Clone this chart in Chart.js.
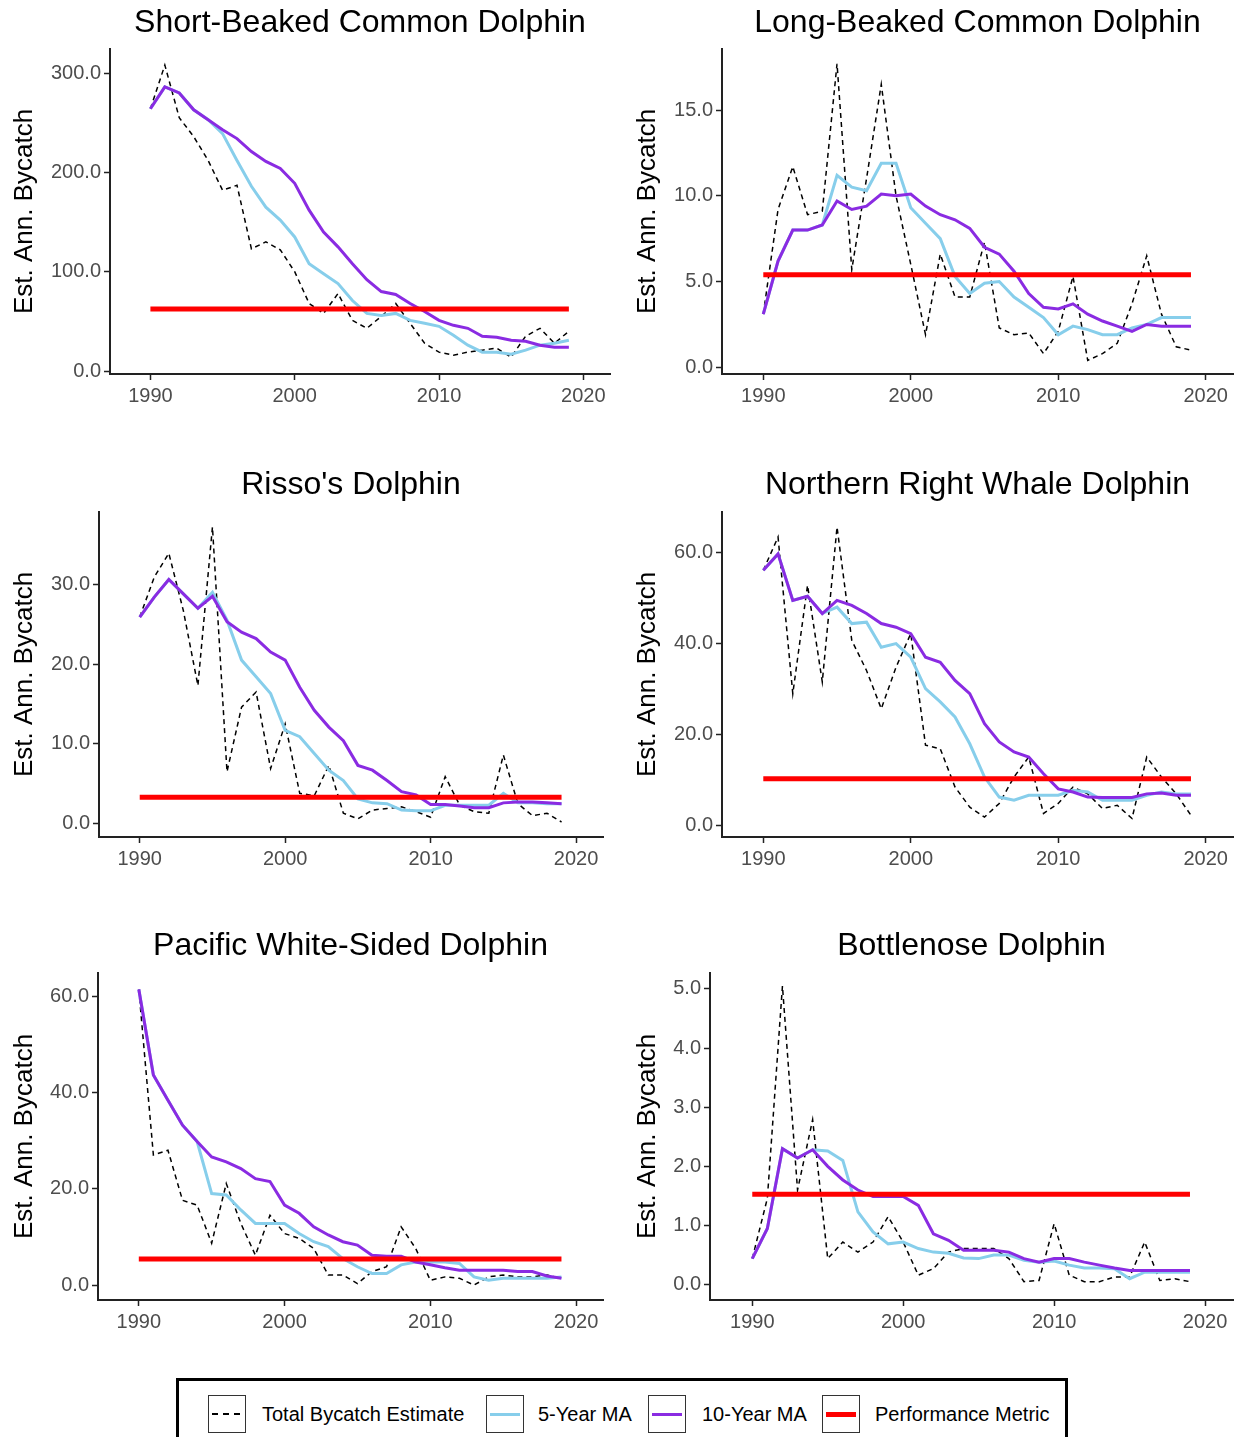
<!DOCTYPE html>
<html>
<head>
<meta charset="utf-8">
<script src="https://cdn.jsdelivr.net/npm/chart.js@4.4.1/dist/chart.umd.min.js"></script>
<style>
  html, body { margin: 0; padding: 0; background: #fff; }
  #page { position: relative; width: 1241px; height: 1437px; overflow: hidden; background: #fff; }
  #page canvas { position: absolute; }
  .legend {
    position: absolute; left: 176px; top: 1378px; width: 892px; height: 70px;
    border: 3px solid #000; box-sizing: border-box;
    font-family: "Liberation Sans", Arial, sans-serif; font-size: 20px; color: #000;
    white-space: nowrap;
  }
  .legend .key {
    position: absolute; top: 14px;
    width: 38px; height: 38px; border: 1px solid #333; box-sizing: border-box;
  }
  .legend .lbl { position: absolute; top: 14px; line-height: 38px; }
  .legend .key span { position: absolute; left: 3px; right: 3px; top: 50%; }
  .legend .key .dash {
    height: 1.5px; margin-top: -1px;
    background: repeating-linear-gradient(to right, #000 0 6px, transparent 6px 11px);
  }
</style>
</head>
<body>
<div id="page">
  <canvas id="c1"></canvas>
  <canvas id="c2"></canvas>
  <canvas id="c3"></canvas>
  <canvas id="c4"></canvas>
  <canvas id="c5"></canvas>
  <canvas id="c6"></canvas>
  <div class="legend">
    <div class="key" style="left:29px"><span class="dash"></span></div>
    <div class="lbl" style="left:83px">Total Bycatch Estimate</div>
    <div class="key" style="left:307px"><span style="border-top:3px solid #87CEEB;margin-top:-1.5px"></span></div>
    <div class="lbl" style="left:359px">5-Year MA</div>
    <div class="key" style="left:469px"><span style="border-top:3px solid #8A2BE2;margin-top:-1.5px"></span></div>
    <div class="lbl" style="left:523px">10-Year MA</div>
    <div class="key" style="left:643px"><span style="border-top:5px solid #FF0000;margin-top:-2.5px"></span></div>
    <div class="lbl" style="left:696px">Performance Metric</div>
  </div>
</div>
<script>
// years on the x axis
const years = [1990, 1991, 1992, 1993, 1994, 1995, 1996, 1997, 1998, 1999,
  2000, 2001, 2002, 2003, 2004, 2005, 2006, 2007, 2008, 2009,
  2010, 2011, 2012, 2013, 2014, 2015, 2016, 2017, 2018, 2019];
const xTicks = [1990, 2000, 2010, 2020];

// Short-Beaked Common Dolphin
const sbcdTotal = [264, 308, 255, 236, 212, 182, 187, 123, 130, 122, 100, 68, 58, 78, 51, 43, 55, 68, 48, 28, 19, 16, 19, 21, 23, 14, 35, 43, 28, 40];
const sbcdMA5 = [264, 286, 280, 263, 253, 239, 212, 186, 165, 152, 135, 108, 98, 88, 71, 58, 56, 58, 51, 48, 45, 36, 26, 19, 19, 17, 21, 26, 28, 31];
const sbcdMA10 = [264, 286, 280, 263, 253, 243, 234, 221, 211, 204, 189, 162, 140, 125, 108, 92, 80, 77, 68, 60, 51, 46, 43, 35, 34, 31, 30, 26, 24, 24];
const sbcdPM = 62.4;
const sbcdTicks = [0, 100, 200, 300];

// Long-Beaked Common Dolphin
const lbcdTotal = [3.1, 9.2, 11.7, 8.9, 9.1, 17.7, 5.7, 11.0, 16.5, 10.0, 6.0, 1.9, 6.6, 4.1, 4.1, 7.3, 2.3, 1.9, 2.0, 0.8, 2.1, 5.3, 0.4, 0.8, 1.4, 3.7, 6.5, 3.1, 1.2, 1.0];
const lbcdMA5 = [3.1, 6.2, 8.0, 8.0, 8.3, 11.2, 10.5, 10.3, 11.9, 11.9, 9.3, 8.4, 7.5, 5.3, 4.3, 4.9, 5.0, 4.1, 3.5, 2.9, 1.9, 2.4, 2.2, 1.9, 1.9, 2.3, 2.5, 2.9, 2.9, 2.9];
const lbcdMA10 = [3.1, 6.2, 8.0, 8.0, 8.3, 9.7, 9.2, 9.4, 10.1, 10.0, 10.1, 9.4, 8.9, 8.6, 8.1, 7.0, 6.6, 5.6, 4.3, 3.5, 3.4, 3.7, 3.1, 2.7, 2.4, 2.1, 2.5, 2.4, 2.4, 2.4];
const lbcdPM = 5.4;
const lbcdTicks = [0, 5, 10, 15];

// Risso's Dolphin
const rissoTotal = [25.9, 30.9, 33.9, 26.7, 17.3, 37.2, 6.5, 14.6, 16.5, 6.9, 12.5, 3.8, 3.5, 7.3, 1.3, 0.6, 1.7, 1.9, 2.1, 1.5, 0.8, 5.9, 2.3, 1.5, 1.3, 8.6, 2.5, 1.0, 1.3, 0.2];
const rissoMA5 = [25.9, 28.4, 30.6, 28.8, 27.0, 29.0, 25.5, 20.5, 18.4, 16.3, 11.7, 10.9, 8.8, 6.7, 5.4, 3.1, 2.6, 2.5, 1.7, 1.6, 1.6, 2.3, 2.3, 2.3, 2.3, 3.8, 2.6, 2.6, 2.5, 2.5];
const rissoMA10 = [25.9, 28.4, 30.6, 28.8, 27.0, 28.5, 25.3, 24.0, 23.2, 21.5, 20.5, 17.1, 14.2, 12.1, 10.4, 7.3, 6.7, 5.4, 4.0, 3.6, 2.4, 2.4, 2.2, 2.0, 2.0, 2.6, 2.7, 2.7, 2.6, 2.5];
const rissoPM = 3.3;
const rissoTicks = [0, 10, 20, 30];

// Northern Right Whale Dolphin
const nrwdTotal = [56.0, 63.3, 28.9, 52.7, 31.5, 65.5, 40.6, 34.0, 25.6, 34.7, 42.1, 17.6, 16.8, 8.4, 4.0, 1.8, 4.8, 10.6, 15.0, 2.6, 4.8, 8.4, 6.9, 3.7, 4.4, 1.5, 15.0, 10.6, 6.9, 2.2];
const nrwdMA5 = [56.0, 59.6, 49.4, 50.3, 46.5, 47.9, 44.3, 44.6, 39.1, 39.9, 36.9, 30.0, 27.1, 23.8, 17.9, 10.6, 6.2, 5.5, 6.6, 6.6, 6.6, 7.7, 7.3, 5.5, 5.5, 5.5, 6.6, 7.3, 6.9, 6.9];
const nrwdMA10 = [56.0, 59.6, 49.4, 50.3, 46.5, 49.4, 48.3, 46.5, 44.3, 43.5, 42.1, 36.9, 35.8, 31.8, 28.9, 22.3, 18.3, 16.1, 15.0, 11.3, 8.0, 7.3, 6.2, 6.1, 6.1, 6.1, 6.9, 7.1, 6.6, 6.6];
const nrwdPM = 10.2;
const nrwdTicks = [0, 20, 40, 60];

// Pacific White-Sided Dolphin
const pwsdTotal = [61.4, 27.0, 28.0, 17.6, 16.6, 8.7, 21.1, 12.8, 6.2, 14.5, 10.7, 9.7, 7.6, 2.1, 2.1, 0.3, 2.8, 3.8, 12.1, 7.6, 1.0, 1.7, 1.4, 0.0, 1.7, 2.1, 1.7, 1.7, 2.1, 1.4];
const pwsdMA5 = [61.4, 43.6, 38.4, 33.2, 29.8, 19.0, 18.7, 15.6, 12.8, 12.8, 12.8, 10.7, 9.0, 8.0, 5.5, 3.8, 2.4, 2.4, 4.2, 4.8, 4.8, 4.8, 4.5, 1.7, 1.0, 1.4, 1.4, 1.4, 1.4, 1.7];
const pwsdMA10 = [61.4, 43.6, 38.4, 33.2, 29.8, 26.6, 25.6, 24.2, 22.1, 21.5, 16.6, 14.9, 12.1, 10.4, 9.0, 8.3, 6.2, 6.0, 6.0, 4.8, 4.2, 3.6, 3.1, 3.1, 3.1, 3.1, 2.8, 2.8, 1.9, 1.4];
const pwsdPM = 5.4;
const pwsdTicks = [0, 20, 40, 60];

// Bottlenose Dolphin
const bottleTotal = [0.44, 1.46, 5.05, 1.6, 2.79, 0.44, 0.72, 0.55, 0.72, 1.15, 0.72, 0.16, 0.27, 0.55, 0.61, 0.61, 0.61, 0.44, 0.05, 0.07, 1.03, 0.16, 0.05, 0.05, 0.13, 0.13, 0.72, 0.07, 0.10, 0.05];
const bottleMA5 = [0.44, 0.95, 2.3, 2.14, 2.28, 2.26, 2.1, 1.23, 0.89, 0.69, 0.72, 0.61, 0.55, 0.53, 0.45, 0.44, 0.5, 0.5, 0.41, 0.38, 0.40, 0.33, 0.28, 0.28, 0.27, 0.10, 0.21, 0.21, 0.21, 0.21];
const bottleMA10 = [0.44, 0.95, 2.3, 2.14, 2.28, 2.0, 1.77, 1.6, 1.49, 1.49, 1.49, 1.34, 0.86, 0.75, 0.58, 0.58, 0.58, 0.55, 0.44, 0.38, 0.44, 0.44, 0.38, 0.33, 0.28, 0.24, 0.24, 0.24, 0.24, 0.24];
const bottlePM = 1.53;
const bottleTicks = [0, 1, 2, 3, 4, 5];

Chart.defaults.font.family = '"Liberation Sans", Arial, sans-serif';
Chart.defaults.animation = false;

const TITLE_SIZE = 32;
const TICK_SIZE = 20;
const TICK_COLOR = '#4D4D4D';
const AXIS_COLOR = '#222';

function toPoints(vals) {
  return years.map((x, i) => ({ x: x, y: vals[i] }));
}

// cv = canvas box on the page, plot = plot area box on the page
function makePanel(id, title, cv, plot, titleY, yRange, yTicks, total, ma5, ma10, pm) {
  const canvas = document.getElementById(id);
  canvas.width = cv.w;
  canvas.height = cv.h;
  canvas.style.left = cv.x + 'px';
  canvas.style.top = cv.y + 'px';

  const lh = TITLE_SIZE * 1.2;
  const padTop = titleY - cv.y - lh / 2;
  const padBottom = plot.t - cv.y - padTop - lh;
  const yWidth = plot.l - cv.x;
  const xHeight = cv.y + cv.h - plot.b;

  new Chart(canvas, {
    type: 'line',
    data: {
      datasets: [
        { label: 'Performance Metric', data: [{ x: years[0], y: pm }, { x: years[years.length - 1], y: pm }],
          borderColor: '#FF0000', borderWidth: 5, borderCapStyle: 'butt' },
        { label: '10-Year MA', data: toPoints(ma10), borderColor: '#8A2BE2', borderWidth: 3 },
        { label: '5-Year MA', data: toPoints(ma5), borderColor: '#87CEEB', borderWidth: 3 },
        { label: 'Total Bycatch Estimate', data: toPoints(total), borderColor: '#000', borderWidth: 1.5, borderDash: [5, 4] }
      ]
    },
    options: {
      responsive: false,
      devicePixelRatio: 1,
      animation: false,
      layout: { padding: { left: 0, top: 0, bottom: 0, right: cv.x + cv.w - plot.r } },
      elements: { point: { radius: 0 }, line: { tension: 0, fill: false } },
      plugins: {
        legend: { display: false },
        tooltip: { enabled: false },
        title: {
          display: true, text: title, fullSize: false, color: '#000',
          font: { size: TITLE_SIZE, weight: 'normal' },
          padding: { top: padTop, bottom: padBottom }
        }
      },
      scales: {
        x: {
          type: 'linear', min: 1987.2, max: 2021.85,
          afterBuildTicks: s => { s.ticks = xTicks.map(v => ({ value: v })); },
          afterFit: s => { s.height = xHeight; },
          ticks: { color: TICK_COLOR, font: { size: TICK_SIZE }, padding: 4, callback: v => String(v) },
          grid: { drawOnChartArea: false, drawTicks: true, tickLength: 6, color: AXIS_COLOR, tickWidth: 1.5 },
          border: { display: true, color: AXIS_COLOR, width: 2 }
        },
        y: {
          type: 'linear', min: yRange[0], max: yRange[1],
          afterBuildTicks: s => { s.ticks = yTicks.map(v => ({ value: v })); },
          afterFit: s => { s.width = yWidth; },
          ticks: { color: TICK_COLOR, font: { size: TICK_SIZE }, padding: 3, callback: v => v.toFixed(1) },
          grid: { drawOnChartArea: false, drawTicks: true, tickLength: 6, color: AXIS_COLOR, tickWidth: 1.5 },
          border: { display: true, color: AXIS_COLOR, width: 2 },
          title: {
            display: true, text: 'Est. Ann. Bycatch', color: '#000',
            font: { size: 26 }, padding: { top: cv.x === 0 ? 9 : 12, bottom: 0 }
          }
        }
      }
    }
  });
}

makePanel('c1', 'Short-Beaked Common Dolphin', { x: 0, y: 0, w: 620, h: 420 }, { l: 110, t: 49, r: 610, b: 374 }, 23,
  [-3, 324.2], sbcdTicks, sbcdTotal, sbcdMA5, sbcdMA10, sbcdPM);
makePanel('c2', 'Long-Beaked Common Dolphin', { x: 620, y: 0, w: 621, h: 420 }, { l: 722, t: 49, r: 1233, b: 374 }, 23,
  [-0.39, 18.56], lbcdTicks, lbcdTotal, lbcdMA5, lbcdMA10, lbcdPM);
makePanel('c3', "Risso's Dolphin", { x: 0, y: 460, w: 620, h: 420 }, { l: 99, t: 512, r: 603, b: 837 }, 485,
  [-1.68, 39.07], rissoTicks, rissoTotal, rissoMA5, rissoMA10, rissoPM);
makePanel('c4', 'Northern Right Whale Dolphin', { x: 620, y: 460, w: 621, h: 420 }, { l: 722, t: 512, r: 1233, b: 837 }, 485,
  [-2.57, 68.8], nrwdTicks, nrwdTotal, nrwdMA5, nrwdMA10, nrwdPM);
makePanel('c5', 'Pacific White-Sided Dolphin', { x: 0, y: 920, w: 620, h: 420 }, { l: 98, t: 973, r: 603, b: 1300 }, 946,
  [-3.1, 64.8], pwsdTicks, pwsdTotal, pwsdMA5, pwsdMA10, pwsdPM);
makePanel('c6', 'Bottlenose Dolphin', { x: 620, y: 920, w: 621, h: 420 }, { l: 710, t: 973, r: 1233, b: 1300 }, 946,
  [-0.26, 5.27], bottleTicks, bottleTotal, bottleMA5, bottleMA10, bottlePM);
</script>
</body>
</html>
